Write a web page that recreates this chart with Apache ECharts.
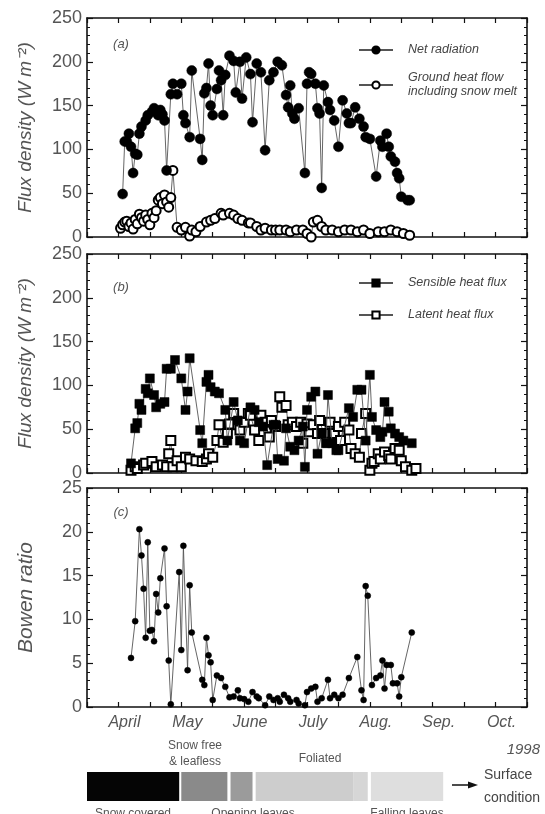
<!DOCTYPE html>
<html><head><meta charset="utf-8">
<script src="https://cdn.jsdelivr.net/npm/echarts@6/dist/echarts.min.js"></script>
<style>html,body{margin:0;padding:0;background:#fff}#c{width:545px;height:814px}</style>
</head><body><div id="c"></div>
<script>
// x values: days after 1 April (30-day month ticks)
const monthNames = ['April','May','June','July','Aug.','Sep.','Oct.'];
const fluxTicks = [0,50,100,150,200,250];
const bowenTicks = [0,5,10,15,20,25];

const netRadDay = [2,3,4,5,6,7,8,9,10,11,13,14,16,17,19,20,21,22,23,25,26,28,30,31,32,34,35,39,40,41,42,43,44,45,47,48,49,50,51,53,55,56,58,59,61,63,64,66,68,70,72,74,76,78,80,81,82,83,84,86,89,90,91,92,94,95,96,97,98,100,101,103,105,107,109,110,111,113,115,117,118,120,123,125,126,128,129,130,132,133,134,135,138,139];
const netRadVal = [49,109,109,118,103,73,95,94,118,126,133,139,143,147,139,145,140,133,76,163,175,163,175,139,130,114,190,112,88,164,170,198,150,139,169,190,179,139,185,207,201,165,200,158,205,186,131,198,188,99,179,188,200,196,162,148,173,141,135,147,73,175,188,186,175,147,141,56,173,154,145,133,103,156,141,130,130,148,135,126,114,112,69,110,103,118,103,92,86,73,67,46,42,42];

const groundDay = [1,2,3,4,5,6,7,8,9,10,11,12,13,14,15,16,17,18,19,20,21,22,23,24,25,26,28,30,32,34,35,37,39,42,44,46,49,50,53,55,57,59,62,63,66,68,70,73,75,77,80,82,85,88,90,92,93,95,97,99,102,105,108,111,114,117,120,124,127,130,133,136,139];
const groundVal = [10,14,17,18,12,16,9,20,15,26,22,18,25,20,14,27,22,30,42,45,38,48,40,34,45,76,11,8,11,1,8,6,12,17,19,21,27,25,27,25,21,19,16,16,12,8,10,8,8,8,8,6,8,8,4,0,17,19,12,8,8,6,8,8,6,8,4,6,6,8,6,4,2];

const sensDay = [6,8,9,10,11,13,14,15,17,18,20,22,23,25,27,30,32,33,34,39,40,42,43,44,46,48,51,52,55,57,58,60,63,65,67,69,71,74,75,76,79,80,82,84,86,88,89,90,92,94,95,97,99,100,102,104,105,110,112,114,116,118,120,121,123,125,126,127,129,130,132,134,136,140];
const sensVal = [11,51,57,79,72,96,91,108,89,75,79,81,119,119,129,108,72,93,131,49,34,104,112,98,93,91,72,37,81,60,37,34,75,72,58,53,9,55,55,16,14,51,30,26,37,53,7,72,87,93,22,45,34,89,34,26,26,74,64,95,95,37,112,64,49,41,47,81,70,51,45,41,37,34];

const latDay = [6,8,9,12,13,16,18,21,23,24,25,26,28,30,32,34,37,40,42,43,45,47,48,50,52,53,55,57,58,60,62,63,65,67,68,70,72,73,75,77,78,80,81,83,85,87,88,90,91,93,95,96,98,100,101,103,105,106,108,110,111,113,115,116,118,120,121,122,124,125,127,129,130,132,134,135,137,140,142];
const latVal = [3,7,5,9,11,13,7,9,7,22,37,7,14,7,18,16,14,13,16,22,18,37,55,35,45,56,68,55,49,58,68,66,49,37,66,58,41,60,53,87,75,77,55,58,53,58,34,56,47,55,45,60,45,35,58,45,53,37,58,49,28,22,18,45,68,3,11,13,22,16,24,20,16,28,26,14,7,3,5];

const bowenDay = [6,8,10,11,12,13,14,15,16,17,18,19,20,22,23,24,25,29,30,31,33,34,35,40,41,42,43,44,45,47,49,51,53,55,57,58,60,62,64,66,67,70,72,74,76,77,79,81,82,85,86,89,90,92,94,95,97,100,101,103,105,107,110,114,116,117,118,119,121,123,125,126,127,128,130,131,133,134,135,140];
const bowenVal = [5.6,9.8,20.3,17.3,13.5,7.9,18.8,8.7,8.8,7.5,12.9,10.8,14.7,18.1,11.5,5.3,0.3,15.4,6.5,18.4,4.2,13.9,8.5,3.1,2.5,7.9,5.9,5.1,0.8,3.6,3.3,2.3,1.1,1.2,1.9,1.0,0.9,0.6,1.7,1.2,1.0,0.2,1.2,0.8,1.0,0.6,1.4,1.0,0.6,0.8,0.4,0.2,1.7,2.1,2.3,0.6,1.0,3.1,1.0,1.4,1.0,1.4,3.3,5.7,1.9,0.8,13.8,12.7,2.5,3.3,3.6,5.3,2.1,4.8,4.8,2.7,2.7,1.2,3.4,8.5];

// surface condition periods (days after 1 April)
const surfStart = [-15,30,53.5,65.5,112,120.5];
const surfEnd = [29,52,64,112,119,155];
const surfFill = ['#050505','#8a8a8a','#9b9b9b','#cdcdcd','#d6d6d6','#dedede'];

const pairs = (d,v) => d.map((x,i)=>[x,v[i]]);
const FONT = 'Liberation Sans';
const GREY = '#555';

const grids = [
  {left:87, width:440, top:18, height:219},
  {left:87, width:440, top:254, height:219},
  {left:87, width:440, top:488, height:219},
  {left:87, width:440, top:772, height:29}
];
const axLine = {show:true, onZero:false, lineStyle:{color:'#111', width:1.6}};
function xAxes(g){
  const base = {type:'value', gridIndex:g, min:-15, max:195, interval:15,
    axisLine:axLine, splitLine:{show:false},
    axisTick:{show:true, inside:true, length:5, lineStyle:{color:'#111', width:1.2}}};
  return [
    Object.assign({}, base, {position:'bottom', axisLabel: g===2 ? {
        show:true, margin:8, color:GREY, fontFamily:FONT, fontStyle:'italic', fontSize:16,
        padding:[0,0,0,12],
        formatter:v => (v>=0 && v%30===0) ? monthNames[v/30] : ''} : {show:false}}),
    Object.assign({}, base, {position:'top', axisLabel:{show:false}})
  ];
}
function yAxes(g, max, iv, name, nameSize, gap){
  const base = {type:'value', gridIndex:g, min:0, max:max, interval:iv,
    axisLine:axLine, splitLine:{show:false},
    axisTick:{show:true, inside:true, length:6, lineStyle:{color:'#111', width:1.2}},
    minorTick:{show:true, splitNumber:5, length:3, lineStyle:{color:'#111', width:1}}};
  return [
    Object.assign({}, base, {position:'left', name:name, nameLocation:'middle', nameGap:gap,
      nameTextStyle:{color:GREY, fontFamily:FONT, fontStyle:'italic', fontSize:nameSize},
      axisLabel:{show:true, margin:5, color:GREY, fontFamily:FONT, fontSize:18}}),
    Object.assign({}, base, {position:'right', axisLabel:{show:false}})
  ];
}
const xAxis = [...xAxes(0), ...xAxes(1), ...xAxes(2),
  {type:'value', gridIndex:3, min:-15, max:195, show:false}];
const yAxis = [...yAxes(0,250,50,'Flux density (W m⁻²)',19,52),
  ...yAxes(1,250,50,'Flux density (W m⁻²)',19,52),
  ...yAxes(2,25,5,'Bowen ratio',21,50),
  {type:'value', gridIndex:3, min:0, max:1, show:false}];

const lineStyle = {color:'#555', width:0.9};
function ser(name, data, xi, yi, symbol, size, filled){
  return {type:'line', name:name, data:data, xAxisIndex:xi, yAxisIndex:yi,
    symbol:symbol, symbolSize:size, showAllSymbol:true, lineStyle:lineStyle,
    itemStyle: filled ? {color:'#000', borderColor:'#000', borderWidth:0.5}
                      : {color:'#000', borderWidth:1.2},
    emphasis:{disabled:true}, animation:false, z: filled?3:2};
}
const GH = 'Ground heat flow\nincluding snow melt';
const series = [
  ser(GH, pairs(groundDay,groundVal), 0, 0, 'emptyCircle', 9, false),
  ser('Net radiation', pairs(netRadDay,netRadVal), 0, 0, 'circle', 10, true),
  ser('Latent heat flux', pairs(latDay,latVal), 2, 2, 'emptyRect', 9, false),
  ser('Sensible heat flux', pairs(sensDay,sensVal), 2, 2, 'rect', 9, true),
  ser('Bowen', pairs(bowenDay,bowenVal), 4, 4, 'circle', 6, true),
  {type:'custom', xAxisIndex:6, yAxisIndex:6, animation:false,
   data: surfStart.map((s,i)=>[s, surfEnd[i]]),
   renderItem:(params, api)=>{
     const a = api.coord([api.value(0), 1]);
     const b = api.coord([api.value(1), 0]);
     return {type:'rect', shape:{x:a[0], y:a[1], width:b[0]-a[0], height:b[1]-a[1]},
       style:{fill:surfFill[params.dataIndex]}};
   }}
];
const legText = {color:'#444', fontFamily:FONT, fontStyle:'italic', fontSize:12.5, lineHeight:14, padding:[0,0,0,10]};
const legend = [
  {left:353, top:38, orient:'vertical', itemWidth:34, itemHeight:9, itemGap:14,
   data:['Net radiation', GH], textStyle:legText, selectedMode:false},
  {left:353, top:271, orient:'vertical', itemWidth:34, itemHeight:9, itemGap:18,
   data:['Sensible heat flux','Latent heat flux'], textStyle:legText, selectedMode:false}
];
const t = (x,y,text,opt) => ({type:'text', x:x, y:y, silent:true, style:Object.assign({
  text:text, fill:GREY, font:'italic 13px "Liberation Sans"', textAlign:'center', textVerticalAlign:'middle'}, opt||{})});
const graphic = [
  t(121,44,'(a)'), t(121,287,'(b)'), t(121,512,'(c)'),
  t(540,750,'1998',{textAlign:'right', font:'italic 15px "Liberation Sans"'}),
  t(195,746,'Snow free',{font:'12px "Liberation Sans"'}),
  t(195,762,'& leafless',{font:'12px "Liberation Sans"'}),
  t(320,759,'Foliated',{font:'12px "Liberation Sans"'}),
  t(133,808,'Snow covered',{font:'12px "Liberation Sans"', textVerticalAlign:'top'}),
  t(253,808,'Opening leaves',{font:'12px "Liberation Sans"', textVerticalAlign:'top'}),
  t(407,808,'Falling leaves',{font:'12px "Liberation Sans"', textVerticalAlign:'top'}),
  t(484,775,'Surface',{font:'14px "Liberation Sans"', textAlign:'left', fill:'#444'}),
  t(484,798,'condition',{font:'14px "Liberation Sans"', textAlign:'left', fill:'#444'}),
  {type:'line', silent:true, shape:{x1:452, y1:785, x2:470, y2:785}, style:{stroke:'#111', lineWidth:1.5}},
  {type:'polygon', silent:true, shape:{points:[[478,785],[468,781.5],[468,788.5]]}, style:{fill:'#111'}}
];
const chart = echarts.init(document.getElementById('c'), null, {renderer:'canvas'});
chart.setOption({animation:false, grid:grids, xAxis:xAxis, yAxis:yAxis, series:series, legend:legend, graphic:graphic});
</script></body></html>
